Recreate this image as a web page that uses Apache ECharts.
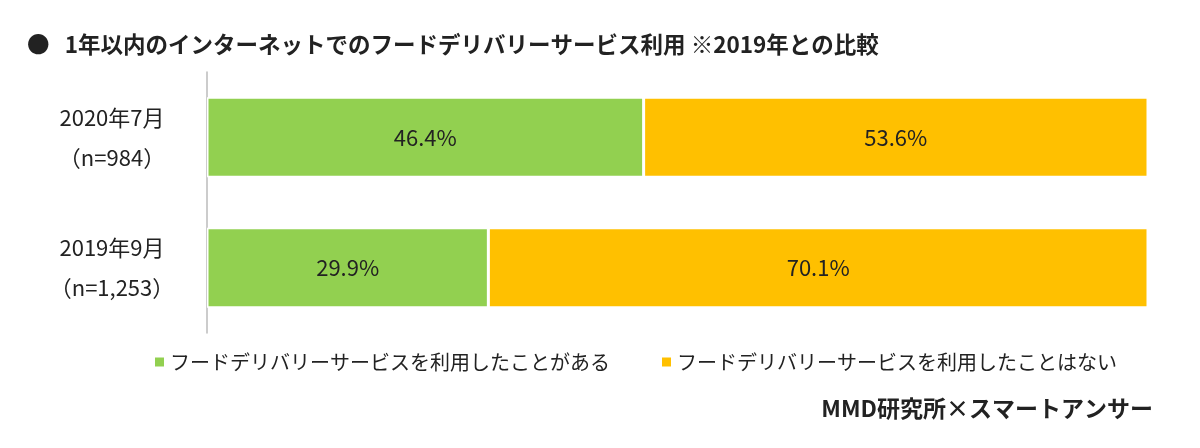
<!DOCTYPE html>
<html><head><meta charset="utf-8">
<script src="https://cdn.jsdelivr.net/npm/echarts@6/dist/echarts.min.js"></script>
<style>html,body{margin:0;background:#fff}#c{width:1200px;height:448px}</style>
</head><body><div id="c"></div>
<script>
const categories = ['2020年7月\n（n=984）', '2019年9月\n（n=1,253）'];
const usedValues = [46.4, 29.9];
const notUsedValues = [53.6, 70.1];
const seriesNames = ['フードデリバリーサービスを利用したことがある', 'フードデリバリーサービスを利用したことはない'];
const font = '"Noto Sans CJK JP", sans-serif';
const chart = echarts.init(document.getElementById('c'));
const lbl = {show:true, position:'inside', color:'#222', fontSize:22, fontFamily:font, formatter:p=>p.value.toFixed(1)+'%'};
chart.setOption({
  animation:false,
  title:[
    {text:'●   1年以内のインターネットでのフードデリバリーサービス利用 ※2019年との比較', left:22, top:28, textStyle:{fontSize:22.5, fontWeight:'bold', color:'#222', fontFamily:font}},
    {text:'MMD研究所×スマートアンサー', right:42, top:392, textStyle:{fontSize:23, fontWeight:'bold', color:'#222', fontFamily:font}}
  ],
  legend:{left:148, top:347, itemWidth:11, itemHeight:11, itemGap:50, icon:'rect',
    textStyle:{fontSize:20, color:'#222', fontFamily:font}, data:seriesNames},
  grid:{left:207, right:52, top:72, bottom:115},
  xAxis:{type:'value', min:0, max:100, show:false},
  yAxis:{type:'category', inverse:true, data:categories,
    axisLine:{lineStyle:{color:'#bbb', width:1.5}}, axisTick:{show:false},
    axisLabel:{fontSize:22, color:'#222', fontFamily:font, lineHeight:40, margin:95, align:'center'}},
  series:[
    {name:seriesNames[0], type:'bar', stack:'a', barWidth:80, data:usedValues, itemStyle:{color:'#92D050', borderColor:'#fff', borderWidth:1.5}, label:lbl},
    {name:seriesNames[1], type:'bar', stack:'a', barWidth:80, data:notUsedValues, itemStyle:{color:'#FFC000', borderColor:'#fff', borderWidth:1.5}, label:lbl}
  ]
});
</script></body></html>
